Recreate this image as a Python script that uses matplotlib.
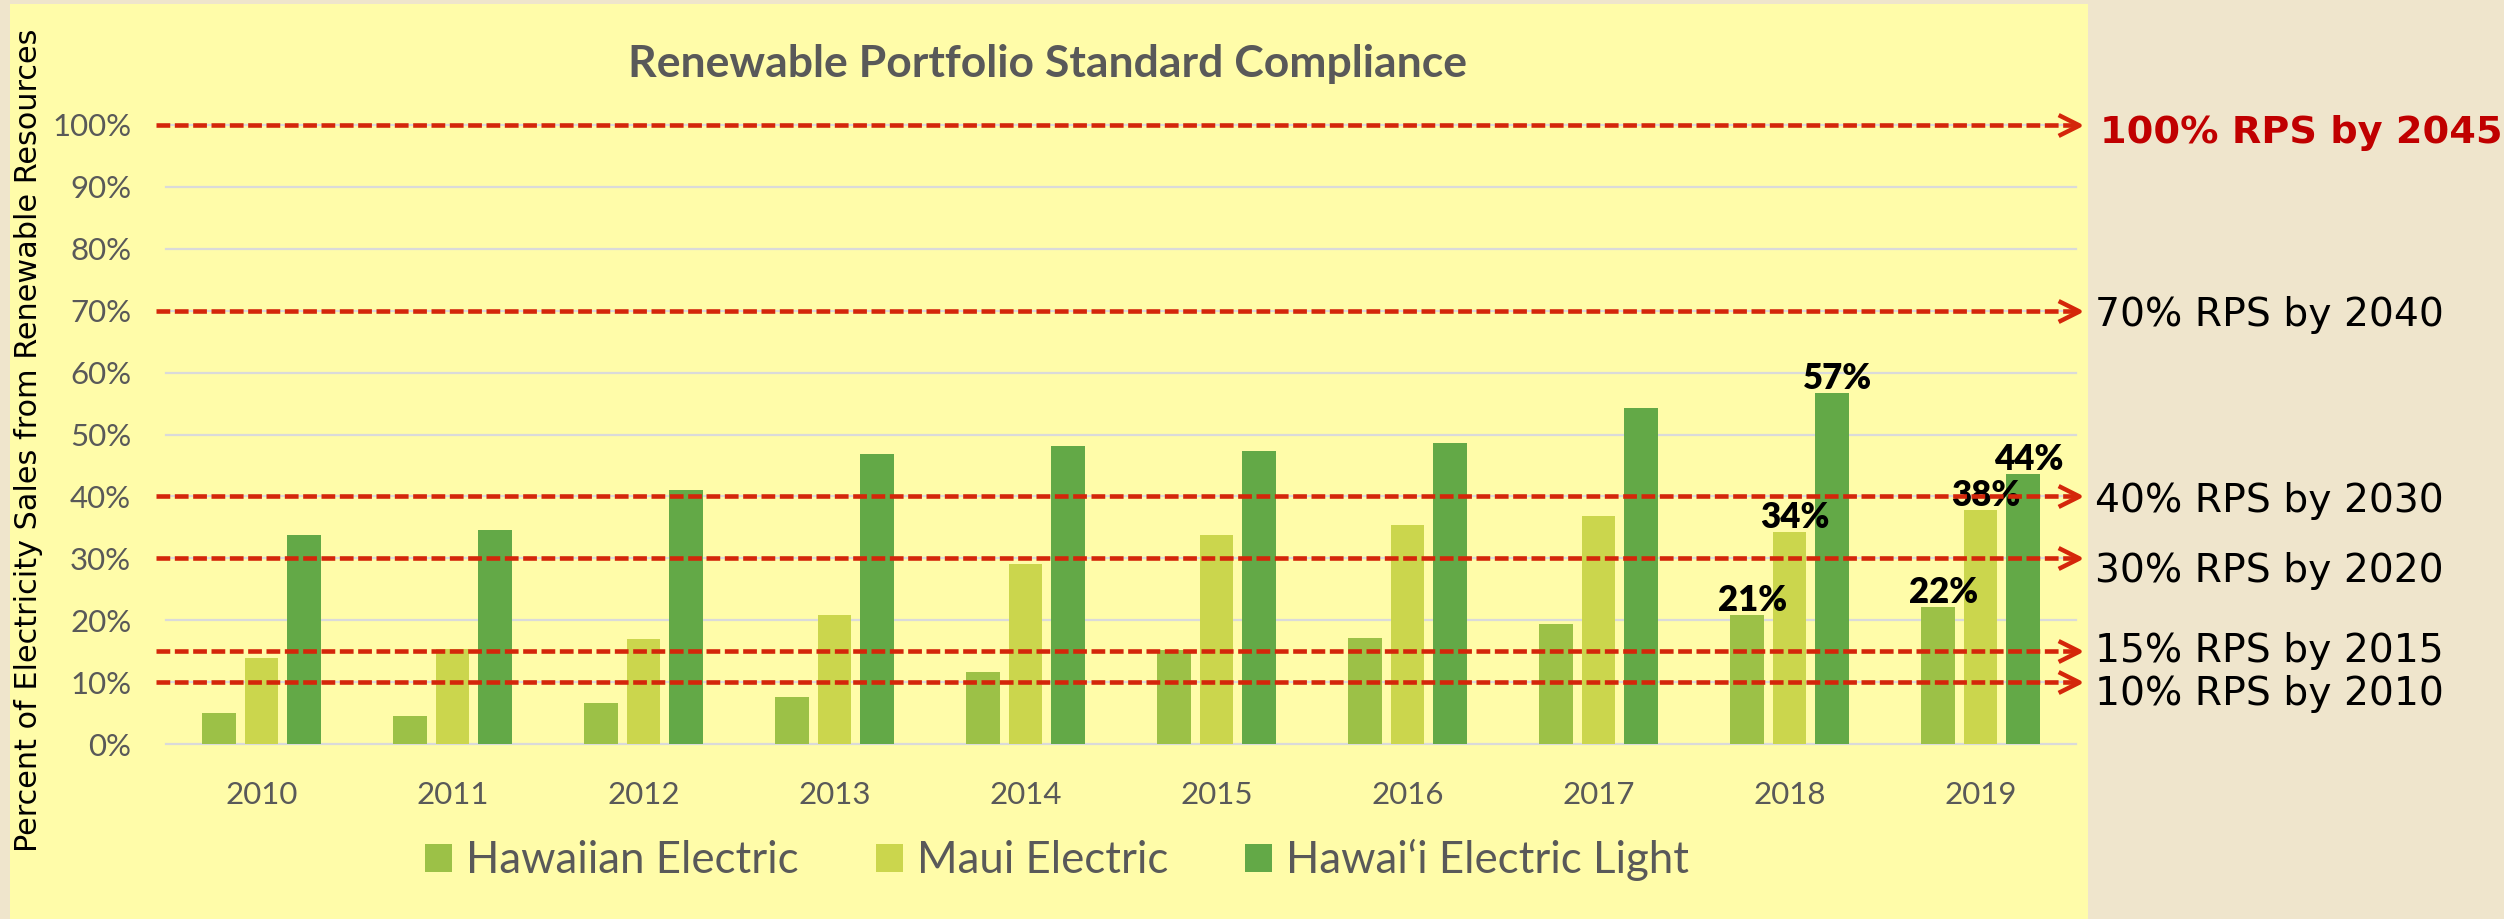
import matplotlib
matplotlib.use("Agg")
import matplotlib.pyplot as plt
from matplotlib.path import Path
from matplotlib.patches import Rectangle, Patch
from matplotlib.ticker import FuncFormatter
import numpy as np

# ---------------- data ----------------
years = ["2010", "2011", "2012", "2013", "2014", "2015", "2016", "2017", "2018", "2019"]
hawaiian_electric = [5.0, 4.6, 6.6, 7.6, 11.6, 15.2, 17.2, 19.4, 20.8, 22.1]
maui_electric = [13.9, 15.3, 17.0, 20.8, 29.0, 33.7, 35.4, 36.9, 34.2, 37.8]
hawaii_electric_light = [33.8, 34.5, 41.1, 46.8, 48.2, 47.3, 48.7, 54.3, 56.7, 43.6]
series_names = ["Hawaiian Electric", "Maui Electric", "Hawai\u2018i Electric Light"]
rps_targets = [100, 70, 40, 30, 15, 10]
rps_years = [2045, 2040, 2030, 2020, 2015, 2010]
labeled_years = ["2018", "2019"]
y_ticks = [0, 10, 20, 30, 40, 50, 60, 70, 80, 90, 100]
title = "Renewable Portfolio Standard Compliance"
y_label = "Percent of Electricity Sales from Renewable Resources"

# ---------------- style ----------------
W, H, DPI = 2504, 919, 100
BEIGE = "#EFE5CC"
YELLOW = "#FFFCA9"
GRAY_TXT = "#595959"
GRID = "#DADADA"
RED = "#D4260A"
DARK_RED = "#C00000"
bar_colors = ["#9CC147", "#CBD64D", "#63A947"]
CAL = ["Lato", "DejaVu Sans"]

fig = plt.figure(figsize=(W / DPI, H / DPI), dpi=DPI, facecolor=BEIGE)

# yellow chart panel (behind everything)
fig.patches.append(Rectangle((10 / W, 0), 2078 / W, (H - 4) / H,
                             transform=fig.transFigure, facecolor=YELLOW,
                             edgecolor="none", zorder=-10))

ax_l, ax_r, ax_t, ax_b = 166, 2076, 125, 744
ax = fig.add_axes([ax_l / W, 1 - ax_b / H, (ax_r - ax_l) / W, (ax_b - ax_t) / H])
ax.set_facecolor("none")
ax.set_zorder(1)

x = np.arange(len(years))
width = 0.175
offset = 0.223
series = [hawaiian_electric, maui_electric, hawaii_electric_light]
for i, (vals, col) in enumerate(zip(series, bar_colors)):
    ax.bar(x + (i - 1) * offset, vals, width, color=col, zorder=2, edgecolor="none")

ax.set_xlim(-0.5, len(years) - 0.5)
ax.set_ylim(0, 100)
ax.set_yticks(y_ticks)
ax.yaxis.set_major_formatter(FuncFormatter(lambda v, p: f"{int(v)}%"))
ax.set_xticks(x)
ax.set_xticklabels(years)
ax.tick_params(axis="both", length=0, colors=GRAY_TXT, labelsize=22.5)
ax.tick_params(axis="y", pad=25)
ax.tick_params(axis="x", pad=27)
for lab in ax.get_xticklabels() + ax.get_yticklabels():
    lab.set_family(CAL)
ax.yaxis.grid(True, color=GRID, lw=1.6, zorder=1)
ax.set_axisbelow(True)
for ln in ax.get_ygridlines():
    ln.set_clip_on(False)
for s in ax.spines.values():
    s.set_visible(False)

# data labels
for i, vals in enumerate(series):
    for j, yr in enumerate(years):
        if yr in labeled_years:
            ax.annotate(f"{round(vals[j])}%", xy=(x[j] + (i - 1) * offset, vals[j]),
                        xytext=(4, 3), textcoords="offset points",
                        ha="center", va="baseline", fontsize=25,
                        fontweight="heavy", family=CAL, color="black", zorder=4)

# RPS target dashed arrows
trans = ax.get_yaxis_transform()
chevron = Path([(-2, 1), (0, 0), (-2, -1)], [Path.MOVETO, Path.LINETO, Path.LINETO])
x0 = (156 - ax_l) / (ax_r - ax_l)
x1 = (2079 - ax_l) / (ax_r - ax_l)
for t in rps_targets:
    ax.plot([x0, x1 - 0.002], [t, t], transform=trans, color=RED, lw=3.3,
            linestyle=(0, (3.0, 1.0)), clip_on=False, zorder=5,
            solid_capstyle="butt", dash_capstyle="butt")
    ax.plot([x1], [t], transform=trans, marker=chevron, ms=30, mew=3.2,
            mfc="none", mec=RED, linestyle="none", clip_on=False, zorder=5)

# right side labels
label_nudge_px = {100: 4, 70: 1, 40: 1, 30: 9, 15: -3, 10: 9}
for t, yr in zip(rps_targets, rps_years):
    txt = f"{t}% RPS by {yr}"
    if t == 100:
        fs, fw, col, dx = 27.5, "bold", DARK_RED, 2100 - ax_r
    else:
        fs, fw, col, dx = 28.3, "normal", "black", 2095 - ax_r
    cap = 0.729 * fs * DPI / 72
    dy = -(label_nudge_px[t] + cap / 2)
    ax.annotate(txt, xy=(1, t), xycoords=trans, xytext=(dx, dy),
                textcoords="offset pixels", ha="left", va="baseline",
                fontsize=fs, fontweight=fw, color=col, family="DejaVu Sans",
                annotation_clip=False)

# title and y label
fig.text(1048 / W, 1 - 77 / H, title, ha="center", va="baseline", fontsize=32,
         fontweight="bold", color=GRAY_TXT, family=CAL)
fig.text(29 / W, 1 - 440 / H, y_label, rotation=90, ha="center", va="center",
         fontsize=21.8, color="black", family="DejaVu Sans")

# legend
handles = [Patch(facecolor=c, edgecolor="none") for c in bar_colors]
fig.legend(handles, series_names, loc="center", bbox_to_anchor=(1057 / W, 1 - 860 / H),
           ncol=3, frameon=False, handlelength=0.62, handleheight=0.62,
           handletextpad=0.32, columnspacing=1.75, labelcolor=GRAY_TXT,
           prop={"family": CAL, "size": 31.5})

fig.savefig("out.png", dpi=DPI, facecolor=BEIGE)
